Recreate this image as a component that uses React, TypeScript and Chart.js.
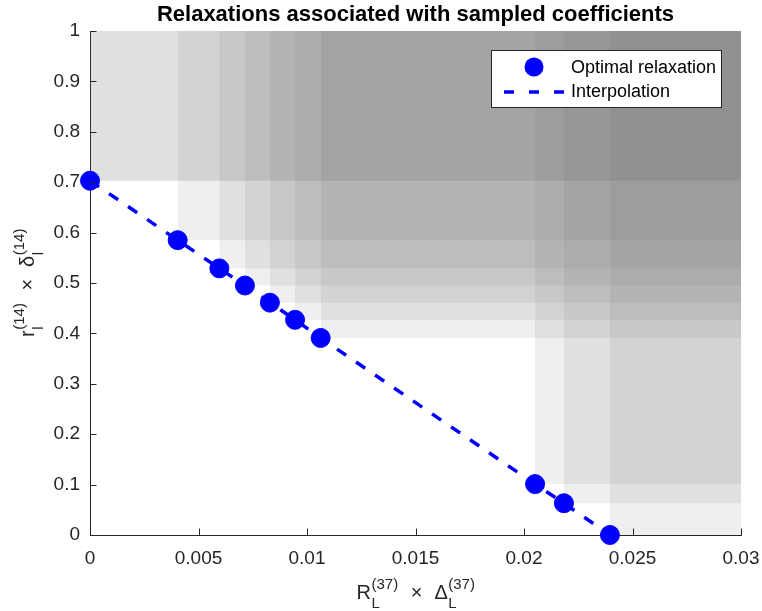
import React, { useEffect, useRef } from "react";
import { Chart, registerables } from "chart.js";

Chart.register(...registerables);

// Optimal relaxation points (sampled coefficients)
const relaxX = [0, 0.00404, 0.00596, 0.00714, 0.00829, 0.00945, 0.01063, 0.02051, 0.02184, 0.02396];
const relaxY = [0.703, 0.585, 0.529, 0.495, 0.461, 0.427, 0.391, 0.101, 0.063, 0.0];
// number of stacked shading layers drawn for each point's dominated region
const shadeLayers = [2, 1, 1, 1, 1, 1, 1, 1, 1, 1];

const xTicks = [0, 0.005, 0.01, 0.015, 0.02, 0.025, 0.03];
const yTicks = [0, 0.1, 0.2, 0.3, 0.4, 0.5, 0.6, 0.7, 0.8, 0.9, 1];
const xLimit = 0.03;
const yLimit = 1;

const titleText = "Relaxations associated with sampled coefficients";
const legendLabels = ["Optimal relaxation", "Interpolation"];

const FONT = "'Liberation Sans', Arial, Helvetica, sans-serif";
const AXIS_COLOR = "#262626";
const BLUE = "#0000ff";
const SHADE = "rgba(96,96,96,0.1)";

type Part = { main: string; sub?: string; sup?: string; gap?: number };

function drawScripted(ctx: CanvasRenderingContext2D, parts: Part[], cx: number, baseline: number) {
  const mainFont = `20px ${FONT}`;
  const smallFont = `15px ${FONT}`;
  let total = 0;
  const widths: { m: number; s: number }[] = [];
  for (const p of parts) {
    ctx.font = mainFont;
    const m = ctx.measureText(p.main).width;
    ctx.font = smallFont;
    const s = Math.max(p.sub ? ctx.measureText(p.sub).width : 0, p.sup ? ctx.measureText(p.sup).width : 0);
    widths.push({ m, s });
    total += m + s + (p.gap || 0);
  }
  let x = cx - total / 2;
  ctx.textBaseline = "alphabetic";
  ctx.textAlign = "left";
  parts.forEach((p, i) => {
    ctx.font = mainFont;
    ctx.fillText(p.main, x, baseline);
    x += widths[i].m;
    ctx.font = smallFont;
    if (p.sub) ctx.fillText(p.sub, x + 0.5, baseline + 9);
    if (p.sup) ctx.fillText(p.sup, x + 0.5, baseline - 10);
    x += widths[i].s + (p.gap || 0);
  });
}

const decorPlugin = {
  id: "decor",
  afterDatasetsDraw(chart: any) {
    const { ctx, chartArea, scales } = chart;
    const xs = scales.x;
    const ys = scales.y;
    ctx.save();
    ctx.strokeStyle = AXIS_COLOR;
    ctx.lineWidth = 1;
    ctx.beginPath();
    for (const v of xTicks) {
      const px = Math.round(xs.getPixelForValue(v)) + 0.5;
      ctx.moveTo(px, chartArea.bottom);
      ctx.lineTo(px, chartArea.bottom - 6.5);
    }
    for (const v of yTicks) {
      const py = Math.round(ys.getPixelForValue(v)) + 0.5;
      ctx.moveTo(chartArea.left, py);
      ctx.lineTo(chartArea.left + 6.5, py);
    }
    ctx.stroke();
    ctx.restore();
  },
  afterDraw(chart: any) {
    const { ctx, chartArea } = chart;
    const cx = (chartArea.left + chartArea.right) / 2;
    ctx.save();
    // title
    ctx.fillStyle = "#000";
    ctx.font = `bold 22px ${FONT}`;
    ctx.textAlign = "center";
    ctx.textBaseline = "alphabetic";
    ctx.fillText(titleText, cx, 21);

    // x label
    ctx.fillStyle = AXIS_COLOR;
    drawScripted(
      ctx,
      [
        { main: "R", sub: "L", sup: "(37)", gap: 13 },
        { main: "\u00d7", gap: 12 },
        { main: "\u0394", sub: "L", sup: "(37)" },
      ],
      cx,
      599
    );

    // y label (rotated)
    const cy = (chartArea.top + chartArea.bottom) / 2;
    ctx.save();
    ctx.translate(34, cy);
    ctx.rotate(-Math.PI / 2);
    drawScripted(
      ctx,
      [
        { main: "r", sub: "l", sup: "(14)", gap: 13 },
        { main: "\u00d7", gap: 12 },
        { main: "\u03b4", sub: "l", sup: "(14)" },
      ],
      0,
      0
    );
    ctx.restore();

    // legend
    const bx = 491.5, by = 50.5, bw = 230, bh = 57;
    ctx.fillStyle = "#fff";
    ctx.fillRect(bx, by, bw, bh);
    ctx.strokeStyle = "#262626";
    ctx.lineWidth = 1;
    ctx.strokeRect(bx, by, bw, bh);
    ctx.fillStyle = BLUE;
    ctx.beginPath();
    ctx.arc(534, 67, 9.5, 0, Math.PI * 2);
    ctx.fill();
    ctx.strokeStyle = BLUE;
    ctx.lineWidth = 3.5;
    ctx.setLineDash([10, 15]);
    ctx.beginPath();
    ctx.moveTo(504, 92);
    ctx.lineTo(564, 92);
    ctx.stroke();
    ctx.setLineDash([]);
    ctx.fillStyle = "#000";
    ctx.font = `18px ${FONT}`;
    ctx.textAlign = "left";
    ctx.textBaseline = "middle";
    ctx.fillText(legendLabels[0], 571, 68);
    ctx.fillText(legendLabels[1], 571, 92);
    ctx.restore();
  },
};

export default function App() {
  const ref = useRef<HTMLCanvasElement | null>(null);
  useEffect(() => {
    document.body.style.margin = "0";
    const canvas = ref.current;
    if (!canvas) return;
    const points = relaxX.map((x, i) => ({ x, y: relaxY[i] }));
    const shadeSets: any[] = [];
    relaxX.forEach((x, i) => {
      for (let k = 0; k < shadeLayers[i]; k++) {
        shadeSets.push({
          type: "line",
          label: "shade",
          data: [
            { x, y: yLimit },
            { x: xLimit, y: yLimit },
          ],
          fill: { value: relaxY[i] },
          backgroundColor: SHADE,
          borderColor: "rgba(0,0,0,0)",
          borderWidth: 0,
          pointRadius: 0,
          order: 3,
        });
      }
    });
    const chart = new Chart(canvas, {
      type: "scatter",
      data: {
        datasets: [
          {
            type: "scatter",
            label: legendLabels[0],
            data: points,
            backgroundColor: BLUE,
            borderColor: BLUE,
            pointRadius: 9.5,
            pointHoverRadius: 9.5,
            clip: false,
            order: 0,
          },
          {
            type: "line",
            label: legendLabels[1],
            data: points,
            showLine: true,
            borderColor: BLUE,
            borderWidth: 3.5,
            borderDash: [11, 12],
            pointRadius: 0,
            fill: false,
            tension: 0,
            order: 1,
          },
          ...shadeSets,
        ] as any,
      },
      options: {
        animation: false,
        responsive: false,
        events: [],
        layout: { padding: { left: 0, right: 21, top: 31, bottom: 0 } },
        plugins: {
          legend: { display: false },
          title: { display: false },
          tooltip: { enabled: false },
        },
        scales: {
          x: {
            type: "linear",
            min: 0,
            max: xLimit,
            afterBuildTicks: (s: any) => {
              s.ticks = xTicks.map((v) => ({ value: v }));
            },
            afterFit: (s: any) => {
              s.height = 76;
              s.paddingLeft = 0;
              s.paddingRight = 0;
            },
            grid: { display: false, drawTicks: false },
            border: { display: true, color: AXIS_COLOR, width: 1 },
            ticks: {
              padding: 12,
              color: AXIS_COLOR,
              font: { family: FONT, size: 19 },
              maxRotation: 0,
              autoSkip: false,
              callback: (v: any) => String(v),
            },
          },
          y: {
            type: "linear",
            min: 0,
            max: yLimit,
            afterBuildTicks: (s: any) => {
              s.ticks = yTicks.map((v) => ({ value: v }));
            },
            afterFit: (s: any) => {
              s.width = 90;
              s.paddingTop = 0;
              s.paddingBottom = 0;
            },
            grid: { display: false, drawTicks: false },
            border: { display: true, color: AXIS_COLOR, width: 1 },
            ticks: {
              padding: 10,
              color: AXIS_COLOR,
              font: { family: FONT, size: 19 },
              autoSkip: false,
              callback: (v: any) => String(v),
            },
          },
        },
      },
      plugins: [decorPlugin],
    });
    return () => chart.destroy();
  }, []);
  return <canvas ref={ref} width={762} height={611} style={{ display: "block" }} />;
}
